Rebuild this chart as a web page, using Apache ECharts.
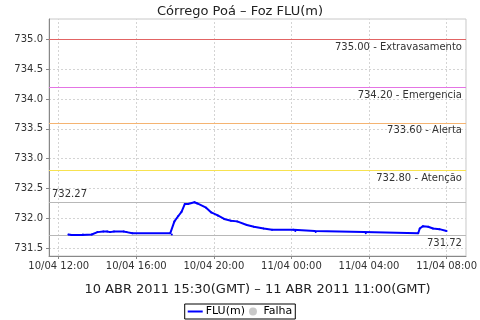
<!DOCTYPE html>
<html><head><meta charset="utf-8">
<script src="https://cdn.jsdelivr.net/npm/echarts@6/dist/echarts.min.js"></script>
<style>html,body{margin:0;padding:0;background:#fff}#c{width:480px;height:320px}</style>
</head><body><div id="c"></div>
<script>
var titleText = 'Córrego Poá – Foz FLU(m)';
var subtitleText = '10 ABR 2011 15:30(GMT) – 11 ABR 2011 11:00(GMT)';
var times = ['10/04 12:30','10/04 12:40','10/04 13:12','10/04 13:15','10/04 13:42','10/04 14:00','10/04 14:18','10/04 14:30','10/04 14:39','10/04 14:51','10/04 15:21','10/04 15:30','10/04 15:48','10/04 17:45','10/04 17:50','10/04 17:58','10/04 18:10','10/04 18:20','10/04 18:30','10/04 18:40','10/04 19:00','10/04 19:09','10/04 19:36','10/04 19:52','10/04 20:12','10/04 20:32','10/04 20:53','10/04 21:12','10/04 21:42','10/04 22:04','10/04 22:34','10/04 23:00','11/04 00:06','11/04 00:12','11/04 01:12','11/04 01:15','11/04 03:44','11/04 03:50','11/04 06:32','11/04 06:37','11/04 06:47','11/04 07:03','11/04 07:18','11/04 07:38','11/04 08:00'];
var fluValues = [731.73,731.72,731.72,731.73,731.73,731.77,731.78,731.78,731.77,731.78,731.78,731.77,731.75,731.75,731.73,731.95,732.04,732.11,732.24,732.24,732.27,732.25,732.18,732.10,732.05,731.99,731.96,731.95,731.89,731.86,731.83,731.81,731.81,731.79,731.79,731.77,731.77,731.75,731.75,731.83,731.87,731.86,731.83,731.82,731.79];
var xTickHours = [12,16,20,24,28,32];
var yTicks = [731.5,732.0,732.5,733.0,733.5,734.0,734.5,735.0];
var thresholdValues = [735.00, 734.20, 733.60, 732.80];
var thresholdNames = ['Extravasamento','Emergencia','Alerta','Atenção'];
var thresholdColors = ['#e26464','#e474e4','#f5b472','#f7e250'];
var maxValue = 732.27, minValue = 731.72;

function toHours(s){var d=parseInt(s.slice(0,2),10);var h=parseInt(s.slice(6,8),10);var m=parseInt(s.slice(9,11),10);return (d-10)*24+h+m/60;}
function pad(n){return (n<10?'0':'')+n;}
function fmtX(v){var h=Math.round(v);return (h>=24?'11/04 ':'10/04 ')+pad(h%24)+':00';}

var data = times.map(function(t,i){return [toHours(t), fluValues[i]];});
var font = 'DejaVu Sans';
var gridMarks = xTickHours.map(function(h){
  return {xAxis:h, lineStyle:{color:'#d4d4d4',width:1,type:[2,2]}, label:{show:false}};
});
var mlData = thresholdValues.map(function(v,i){
  return {yAxis:v, lineStyle:{color:thresholdColors[i],width:1,type:'solid'},
    label:{show:true,position:'insideEndBottom',formatter:v.toFixed(2)+' - '+thresholdNames[i],color:'#333',fontFamily:font,fontSize:10,distance:[4,3]}};
});
mlData.push({yAxis:maxValue,lineStyle:{color:'#b8b8b8',width:1,type:'solid'},label:{show:true,position:'insideStartTop',formatter:maxValue.toFixed(2),color:'#333',fontFamily:font,fontSize:10,distance:[3,3]}});
mlData.push({yAxis:minValue,lineStyle:{color:'#b8b8b8',width:1,type:'solid'},label:{show:true,position:'insideEndBottom',formatter:minValue.toFixed(2),color:'#333',fontFamily:font,fontSize:10,distance:[4,3]}});

var chart = echarts.init(document.getElementById('c'));
chart.setOption({
  animation:false,
  textStyle:{fontFamily:font},
  title:{text:titleText,left:'center',top:0,textStyle:{fontFamily:font,fontSize:13,fontWeight:'normal',color:'#222'}},
  grid:{left:49,right:8,top:19,bottom:64,show:true,borderColor:'#c8c8c8',borderWidth:1},
  xAxis:{type:'value',min:11.5,max:33,
    name:subtitleText,nameLocation:'middle',nameGap:27,nameTextStyle:{fontFamily:font,fontSize:13,color:'#222'},
    axisLine:{lineStyle:{color:'#888'}},
    axisTick:{show:true,length:3,lineStyle:{color:'#888'},customValues:xTickHours},
    axisLabel:{customValues:xTickHours,formatter:fmtX,fontFamily:font,fontSize:10,color:'#333',margin:5},
    splitLine:{show:false}},
  yAxis:{type:'value',min:731.37,max:735.34,
    axisLine:{show:true,lineStyle:{color:'#888'}},
    axisTick:{show:true,length:3,lineStyle:{color:'#888'},customValues:yTicks},
    axisLabel:{customValues:yTicks,formatter:function(v){return v.toFixed(1);},fontFamily:font,fontSize:10,color:'#333',margin:6},
    splitLine:{show:true,lineStyle:{color:'#d4d4d4',type:[2,2]}}},
  legend:{bottom:1,left:'center',orient:'horizontal',borderColor:'#000',borderWidth:1,padding:[2,3],itemGap:4,itemWidth:15,itemHeight:8,
    textStyle:{fontFamily:font,fontSize:11,color:'#000',padding:[0,0,0,-2]},
    data:[{name:'FLU(m)',icon:'path://M0,0L15,0L15,2L0,2Z'},{name:'Falha',icon:'circle'}]},
  series:[
    {name:'grid',type:'line',data:[],silent:true,legendHoverLink:false,
     markLine:{silent:true,symbol:['none','none'],data:gridMarks}},
    {name:'FLU(m)',type:'line',data:data,color:'#0000ff',lineStyle:{color:'#0000ff',width:2},
     showSymbol:true,symbol:'circle',symbolSize:2,itemStyle:{color:'#0000ff'},z:5,
     markLine:{silent:true,symbol:['none','none'],data:mlData}},
    {name:'Falha',type:'scatter',data:[],color:'#bbbbbb',itemStyle:{color:'#bbbbbb'}}
  ]
});
</script></body></html>
